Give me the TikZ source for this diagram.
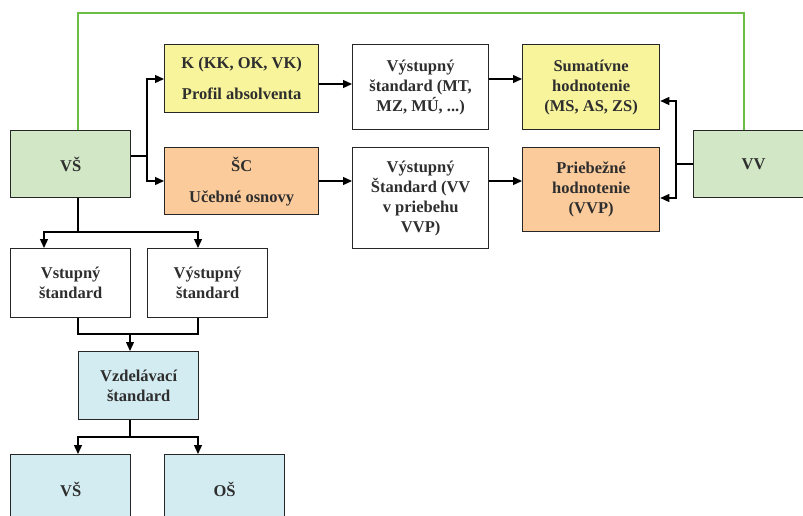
\documentclass[tikz,border=0pt]{standalone}
\usepackage{fontspec}
\setmainfont{Liberation Serif}
\usetikzlibrary{arrows.meta,positioning}
\definecolor{fgreen}{HTML}{D1E7C6}
\definecolor{fyellow}{HTML}{F8F49C}
\definecolor{forange}{HTML}{FBCB9B}
\definecolor{fblue}{HTML}{D3ECF1}
\definecolor{lgreen}{HTML}{6BBE45}
\definecolor{txt}{HTML}{2E2E2E}
\begin{document}
\begin{tikzpicture}[x=1pt,y=-1pt,
  box/.style={draw=black!85,line width=1.3pt,anchor=north west,inner sep=0pt,
    align=center,font=\bfseries\fontsize{16.5}{20}\selectfont,text=txt},
  conn/.style={draw=black,line width=1.3pt},
  arr/.style={conn,-{Triangle[length=9pt,width=8pt]}},
  gline/.style={draw=lgreen,line width=2pt}]
\useasboundingbox (0,0) rectangle (803,515);
% top row
\node[box,fill=fgreen,minimum width=120pt,minimum height=67pt] (vs) at (10,130) {VŠ};
\node[box,fill=fgreen,minimum width=120pt,minimum height=67pt] (vv) at (693,130) {VV};
\node[box,fill=fyellow,minimum width=154pt,minimum height=68pt] (k) at (164,44) {K (KK, OK, VK)\\[11pt]Profil absolventa};
\node[box,fill=forange,minimum width=154pt,minimum height=67pt] (sc) at (164,147) {ŠC\\[11pt]Učebné osnovy};
\node[box,fill=white,minimum width=136pt,minimum height=85pt] (vys1) at (352,44) {Výstupný\\štandard (MT,\\MZ, MÚ, ...)};
\node[box,fill=white,minimum width=136pt,minimum height=101pt] (vys2) at (352,147) {Výstupný\\Štandard (VV\\v priebehu\\VVP)};
\node[box,fill=fyellow,minimum width=137pt,minimum height=85pt] (sum) at (522,44) {Sumatívne\\hodnotenie\\(MS, AS, ZS)};
\node[box,fill=forange,minimum width=137pt,minimum height=84pt] (pri) at (522,147) {Priebežné\\hodnotenie\\(VVP)};
% bottom
\node[box,fill=white,minimum width=120pt,minimum height=69pt] (vst) at (10,248) {Vstupný\\štandard};
\node[box,fill=white,minimum width=120pt,minimum height=69pt] (vys3) at (147,248) {Výstupný\\štandard};
\node[box,fill=fblue,minimum width=120pt,minimum height=68pt] (vzd) at (78,351) {Vzdelávací\\štandard};
\node[box,fill=fblue,minimum width=120pt,minimum height=70pt] (vs2) at (10,454) {VŠ};
\node[box,fill=fblue,minimum width=120pt,minimum height=70pt] (os) at (164,454) {OŠ};
% green feedback line
\draw[gline] (vs.north west) ++(68,0) coordinate (g1) -- (g1 |- 0,13) -| ([xshift=51pt]vv.north west);
% VS to K and SC
\coordinate (b1) at (147,156);
\draw[conn] (vs.east |- b1) -- (b1);
\draw[arr] (b1) |- (k.west |- 0,79);
\draw[arr] (b1) |- (sc.west |- 0,181);
% right arrows
\draw[arr] (k.east |- 0,84) -- (vys1.west |- 0,84);
\draw[arr] (sc.east |- 0,181) -- (vys2.west |- 0,181);
\draw[arr] (vys1.east |- 0,79) -- (sum.west |- 0,79);
\draw[arr] (vys2.east |- 0,181) -- (pri.west |- 0,181);
% VV to Sum and Pri
\coordinate (b2) at (676,164);
\draw[conn] (vv.west |- b2) -- (b2);
\draw[arr] (b2) |- (sum.east |- 0,101);
\draw[arr] (b2) |- (pri.east |- 0,198);
% VS down
\coordinate (b3) at (78,232);
\draw[conn] (vs.south west) ++(68,0) -- (b3);
\draw[arr] (b3) -| ([xshift=34pt]vst.north west);
\draw[arr] (b3) -| ([xshift=51pt]vys3.north west);
% merge to Vzd
\coordinate (b4) at (130,334);
\draw[conn] ([xshift=68pt]vst.south west) |- (b4) -| ([xshift=51pt]vys3.south west);
\draw[arr] (b4) -- (b4 |- vzd.north);
% Vzd down
\coordinate (b5) at (130,437);
\draw[conn] (b5 |- vzd.south) -- (b5);
\draw[arr] (b5) -| ([xshift=68pt]vs2.north west);
\draw[arr] (b5) -| ([xshift=34pt]os.north west);
\end{tikzpicture}
\end{document}
